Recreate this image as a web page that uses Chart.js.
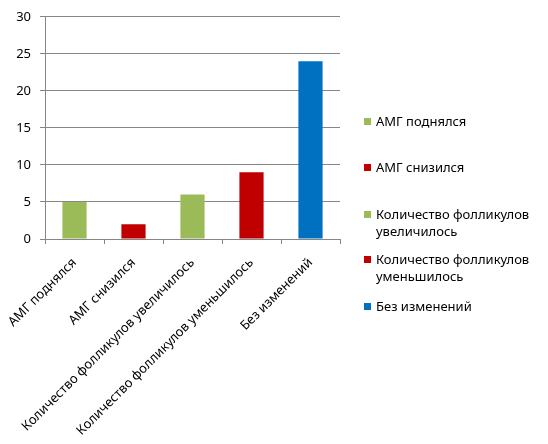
<!DOCTYPE html>
<html>
<head>
<meta charset="utf-8">
<script src="https://cdn.jsdelivr.net/npm/chart.js@4"></script>
<style>
  html, body { margin: 0; padding: 0; background: #fff; }
  #wrap { position: relative; width: 548px; height: 444px; }
  #legend { position: absolute; left: 362px; top: 0; font: 13px "Noto Sans", sans-serif; color: #000; }
  #legend .item { position: absolute; left: 0; width: 186px; line-height: 17px; padding-left: 14px; }
  #legend .box { position: absolute; left: 2px; top: 5px; width: 7px; height: 7px; }
  #legend .item:nth-child(1) { top: 113px; }
  #legend .item:nth-child(2) { top: 159px; }
  #legend .item:nth-child(3) { top: 206px; }
  #legend .item:nth-child(4) { top: 251px; }
  #legend .item:nth-child(5) { top: 298px; }
</style>
</head>
<body>
<div id="wrap">
  <canvas id="chart" width="548" height="444"></canvas>
  <div id="legend"></div>
</div>
<script>
// categories and values
const categories = ['АМГ поднялся', 'АМГ снизился', 'Количество фолликулов увеличилось', 'Количество фолликулов уменьшилось', 'Без изменений'];
const legendLabels = [['АМГ поднялся'], ['АМГ снизился'], ['Количество фолликулов', 'увеличилось'], ['Количество фолликулов', 'уменьшилось'], ['Без изменений']];
const counts = [5, 2, 6, 9, 24];
const barColors = ['#9BBB59', '#C00000', '#9BBB59', '#C00000', '#0070C0'];
const yTicks = [0, 5, 10, 15, 20, 25, 30];

const gridColor = '#868686';
const font = { family: '"Noto Sans", sans-serif', size: 13 };

const ctx = document.getElementById('chart').getContext('2d');
new Chart(ctx, {
  type: 'bar',
  data: {
    labels: categories,
    datasets: [{
      data: counts,
      backgroundColor: barColors,
      borderWidth: 0,
      categoryPercentage: 1,
      barPercentage: 0.41,
    }],
  },
  options: {
    responsive: false,
    animation: false,
    layout: { padding: { top: 4, right: 208, left: 0, bottom: 0 } },
    plugins: { legend: { display: false }, tooltip: { enabled: false } },
    scales: {
      x: {
        grid: { offset: true, drawOnChartArea: false, tickLength: 5, color: gridColor },
        border: { color: gridColor },
        ticks: { color: '#000', font, maxRotation: 45, minRotation: 45, autoSkip: false, padding: 11 },
        afterFit: (scale) => {
          scale.height = 205;
          // rotated labels may overhang the left edge, as in the original
          scale.paddingLeft = 0;
          scale.paddingRight = 0;
        },
      },
      y: {
        min: 0,
        max: 30,
        afterBuildTicks: (scale) => { scale.ticks = yTicks.map(v => ({ value: v })); },
        grid: { color: gridColor, tickLength: 5 },
        border: { color: gridColor },
        ticks: { color: '#000', font, padding: 9 },
        afterFit: (scale) => { scale.width = 45; },
      },
    },
  },
});

// legend with wrapped lines, built from the same arrays
const legend = document.getElementById('legend');
legendLabels.forEach((lines, i) => {
  const item = document.createElement('div');
  item.className = 'item';
  const box = document.createElement('span');
  box.className = 'box';
  box.style.background = barColors[i];
  item.appendChild(box);
  lines.forEach((line, j) => {
    if (j) item.appendChild(document.createElement('br'));
    item.appendChild(document.createTextNode(line));
  });
  legend.appendChild(item);
});
</script>
</body>
</html>
